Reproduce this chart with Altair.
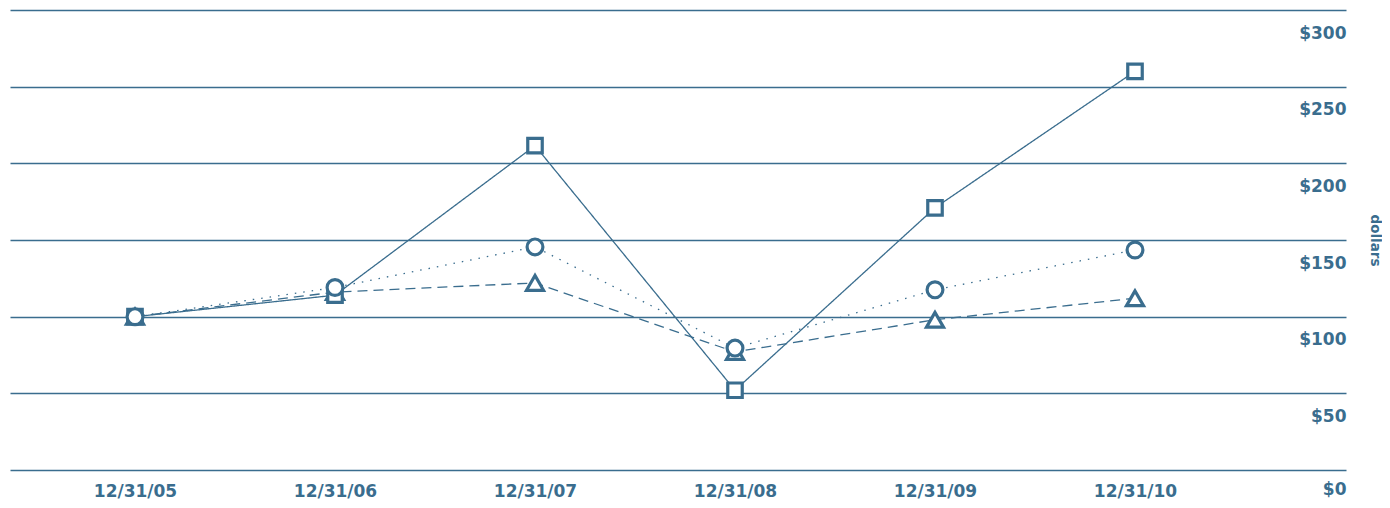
import json
import altair as alt
import pandas as pd

dates = ["12/31/05", "12/31/06", "12/31/07", "12/31/08", "12/31/09", "12/31/10"]
squares = [100, 114, 211.5, 52, 171, 260]
circles = [100, 119, 145.5, 79.5, 117.5, 143.5]
triangles = [100, 116, 122, 77, 98, 112]

series = {"C": triangles, "A": squares, "B": circles}
rows = []
for name, vals in series.items():
    for i, v in enumerate(vals):
        rows.append({"idx": i, "date": dates[i], "series": name, "value": v})
df = pd.DataFrame(rows)

COLOR = "#3a6d8e"
FONT = "DejaVu Sans"

x = alt.X(
    "idx:Q",
    scale=alt.Scale(domain=[-0.625, 6.055], nice=False, zero=False),
    axis=alt.Axis(
        values=list(range(len(dates))),
        labelExpr=f"{json.dumps(dates)}[datum.value]",
        title=None, grid=False, domain=False, ticks=False,
        labelFontSize=17, labelFont=FONT, labelFontWeight="bold",
        labelColor=COLOR, labelPadding=13,
    ),
)
y = alt.Y(
    "value:Q",
    scale=alt.Scale(domain=[0, 300], nice=False),
    axis=alt.Axis(
        orient="right", values=[0, 50, 100, 150, 200, 250, 300],
        labelExpr="'$' + datum.value",
        title="dollars", titleAngle=90, titleX=28, titleY=230,
        titleFontSize=13.5, titleFont=FONT, titleFontWeight="bold", titleColor=COLOR,
        titleAlign="center", titleBaseline="middle",
        grid=True, gridColor=COLOR, gridWidth=1.3, gridOpacity=1,
        domain=False, ticks=False,
        labelFontSize=17, labelFont=FONT, labelFontWeight="bold", labelColor=COLOR,
        labelAlign="right", labelBaseline="middle", labelPadding=0,
        labelOffset={"condition": {"test": "datum.value == 0", "value": 19}, "value": 23},
    ),
)

dash_scale = alt.Scale(domain=["A", "B", "C"], range=[[1, 0], [1.5, 7], [10, 6]])
shape_scale = alt.Scale(domain=["A", "B", "C"], range=["square", "circle", "triangle-up"])
size_scale = alt.Scale(domain=["A", "B", "C"], range=[210, 290, 230])

lines = alt.Chart(df).mark_line(color=COLOR, strokeWidth=1.3).encode(
    x=x, y=y,
    detail="series:N",
    strokeDash=alt.StrokeDash("series:N", scale=dash_scale, legend=None),
)
points = alt.Chart(df).mark_point(
    color=COLOR, filled=False, fill="white", fillOpacity=1, strokeWidth=3.2, opacity=1
).encode(
    x=x, y=y,
    shape=alt.Shape("series:N", scale=shape_scale, legend=None),
    size=alt.Size("series:N", scale=size_scale, legend=None),
)

chart = alt.layer(lines, points).properties(
    width=1336, height=460,
    padding={"left": 2, "top": 2, "right": 36, "bottom": 30},
    autosize=alt.AutoSizeParams(type="none"),
    background="white",
).configure_view(stroke=None, strokeWidth=0)

chart.save("out.html", embed_options={"renderer": "svg", "actions": False})
